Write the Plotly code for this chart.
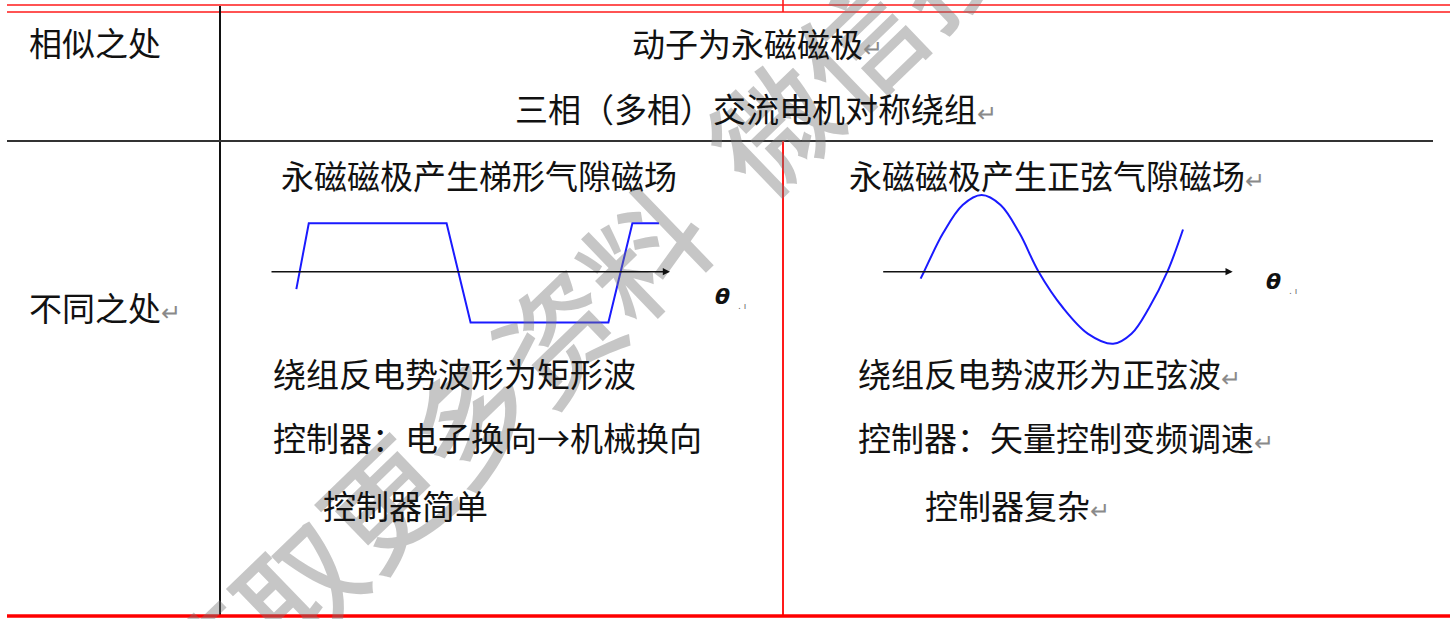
import plotly.graph_objects as go

# ---------------- data ----------------
# cell texts (Chinese), and whether a Word return mark follows them
cell_texts = [
    "相似之处",
    "动子为永磁磁极",
    "三相（多相）交流电机对称绕组",
    "不同之处",
    "永磁磁极产生梯形气隙磁场",
    "绕组反电势波形为矩形波",
    "控制器：电子换向→机械换向",
    "控制器简单",
    "永磁磁极产生正弦气隙磁场",
    "绕组反电势波形为正弦波",
    "控制器：矢量控制变频调速",
    "控制器复杂",
]
cell_return_mark = [False, True, True, True, False, False, False, False, True, True, True, True]

# trapezoidal air-gap field (theta in degrees, normalised field)
trap_theta = [-4, 10, 165, 192, 347, 374, 404]
trap_field = [-0.36, 1.0, 1.0, -1.05, -1.05, 1.0, 1.0]

# sinusoidal air-gap field (theta in degrees, normalised field)
sine_theta = [-5, 0, 28, 57, 85, 113, 141, 169, 205, 242, 279, 306, 332, 359, 382]
sine_field = [-0.09, 0.0, 0.5, 0.87, 1.0, 0.87, 0.5, 0.0, -0.47, -0.81, -0.94, -0.81, -0.47, 0.0, 0.55]

axis_label = "θ"
watermark_text = "获取更多资料\u2002微信搜"

# ---------------- layout helpers ----------------
W, H = 1450, 619
FONT = "Noto Sans CJK SC"

# text anchor positions in page pixels (left x, centre y)
cell_pos = [
    (27, 42), (630, 43), (513, 108), (27, 307),
    (279, 175), (271, 373), (271, 437), (321, 505),
    (847, 175), (856, 373), (856, 437), (923, 505),
]

def paper_y(py):
    return (H - py) / H

fig = go.Figure()

# invisible trace to hold the page-pixel axes
fig.add_trace(go.Scatter(x=[0, W], y=[0, H], mode="markers",
                         marker=dict(opacity=0), hoverinfo="skip",
                         showlegend=False, xaxis="x", yaxis="y"))

# trapezoid waveform
fig.add_trace(go.Scatter(x=trap_theta, y=trap_field, mode="lines",
                         line=dict(color="#1a1aff", width=2),
                         showlegend=False, xaxis="x2", yaxis="y2",
                         cliponaxis=False))
# sine waveform
fig.add_trace(go.Scatter(x=sine_theta, y=sine_field, mode="lines",
                         line=dict(color="#1a1aff", width=2, shape="spline", smoothing=1.0),
                         showlegend=False, xaxis="x3", yaxis="y3",
                         cliponaxis=False))

# axes geometry
# trapezoid: px = 299.9 + 0.889*theta ; py = 271.7 - 48.4*v
t_x0, t_x1 = 262, 690
t_y0, t_y1 = 190, 350
t_sx, t_ox = 0.889, 299.9
t_sy, t_oy = 48.4, 271.7
# sine: px = 924 + 0.678*theta ; py = 271.7 - 76.7*v
s_x0, s_x1 = 870, 1250
s_y0, s_y1 = 180, 360
s_sx, s_ox = 0.678, 924.0
s_sy, s_oy = 76.7, 271.7

hidden = dict(visible=False, showgrid=False, zeroline=False, fixedrange=True)

fig.update_layout(
    width=W, height=H,
    margin=dict(l=0, r=0, t=0, b=0, pad=0),
    paper_bgcolor="white", plot_bgcolor="rgba(0,0,0,0)",
    xaxis=dict(range=[0, W], domain=[0, 1], **hidden),
    yaxis=dict(range=[H, 0], domain=[0, 1], **hidden),
    xaxis2=dict(range=[(t_x0 - t_ox) / t_sx, (t_x1 - t_ox) / t_sx],
                domain=[t_x0 / W, t_x1 / W], anchor="y2", **hidden),
    yaxis2=dict(range=[(t_oy - t_y1) / t_sy, (t_oy - t_y0) / t_sy],
                domain=[paper_y(t_y1), paper_y(t_y0)], anchor="x2", **hidden),
    xaxis3=dict(range=[(s_x0 - s_ox) / s_sx, (s_x1 - s_ox) / s_sx],
                domain=[s_x0 / W, s_x1 / W], anchor="y3", **hidden),
    yaxis3=dict(range=[(s_oy - s_y1) / s_sy, (s_oy - s_y0) / s_sy],
                domain=[paper_y(s_y1), paper_y(s_y0)], anchor="x3", **hidden),
    showlegend=False,
)

# table rules (page pixels)
red = "#ff1a1a"
shapes = [
    dict(x0=7, x1=W, y0=5, y1=5, color=red, w=1.6),
    dict(x0=7, x1=W, y0=12, y1=12, color=red, w=1.6),
    dict(x0=783, x1=783, y0=0, y1=12, color=red, w=1.6),
    dict(x0=220, x1=220, y0=6, y1=616, color="#111111", w=2),
    dict(x0=7, x1=1433, y0=141, y1=141, color="#333333", w=2),
    dict(x0=783, x1=783, y0=141, y1=616, color=red, w=2),
    dict(x0=7, x1=W, y0=616, y1=616, color="#ff0000", w=3.5),
]
for s in shapes:
    fig.add_shape(type="line", xref="x", yref="y",
                  x0=s["x0"], x1=s["x1"], y0=s["y0"], y1=s["y1"],
                  line=dict(color=s["color"], width=s["w"]), layer="above")

annotations = []
# watermark first (so text sits on top of it)
annotations.append(dict(
    x=576, y=312, xref="x", yref="y", text=watermark_text, showarrow=False,
    textangle=-44, xanchor="center", yanchor="middle",
    font=dict(family=FONT, size=120, color="rgba(120,120,120,0.42)", weight=500),
))

# theta axes with arrows
annotations.append(dict(
    x=(670 - t_ox) / t_sx, y=0, xref="x2", yref="y2",
    ax=(270 - t_ox) / t_sx, ay=0, axref="x2", ayref="y2",
    text="", showarrow=True, arrowhead=2, arrowsize=0.9, arrowwidth=1.6,
    arrowcolor="#111111", standoff=0, startstandoff=0,
))
annotations.append(dict(
    x=(1232.7 - s_ox) / s_sx, y=0, xref="x3", yref="y3",
    ax=(881.7 - s_ox) / s_sx, ay=0, axref="x3", ayref="y3",
    text="", showarrow=True, arrowhead=2, arrowsize=0.9, arrowwidth=1.6,
    arrowcolor="#111111", standoff=0, startstandoff=0,
))
for (tx, ty) in [(722, 296), (1273, 281)]:
    annotations.append(dict(
        x=tx, y=ty, xref="x", yref="y", showarrow=False,
        text="<b><i>" + axis_label + "</i></b>", xanchor="center", yanchor="middle",
        font=dict(family="DejaVu Sans", size=22, color="#111111"),
    ))
    annotations.append(dict(
        x=tx + 20, y=ty + 10, xref="x", yref="y", showarrow=False,
        text=". ı", xanchor="center", yanchor="middle",
        font=dict(family="DejaVu Sans", size=9, color="#666666"),
    ))

for txt, mark, (px, py) in zip(cell_texts, cell_return_mark, cell_pos):
    t = txt
    if mark:
        t += "<span style='font-size:24px;color:#8a8a8a'>↵</span>"
    annotations.append(dict(
        x=px, y=py, xref="x", yref="y", text=t, showarrow=False,
        xanchor="left", yanchor="middle",
        font=dict(family=FONT, size=33, color="#111111"),
    ))

fig.update_layout(annotations=annotations)

fig.write_html("out.html", config={"displayModeBar": False},
               post_script="document.body.style.margin='0';document.body.style.overflow='hidden';")
